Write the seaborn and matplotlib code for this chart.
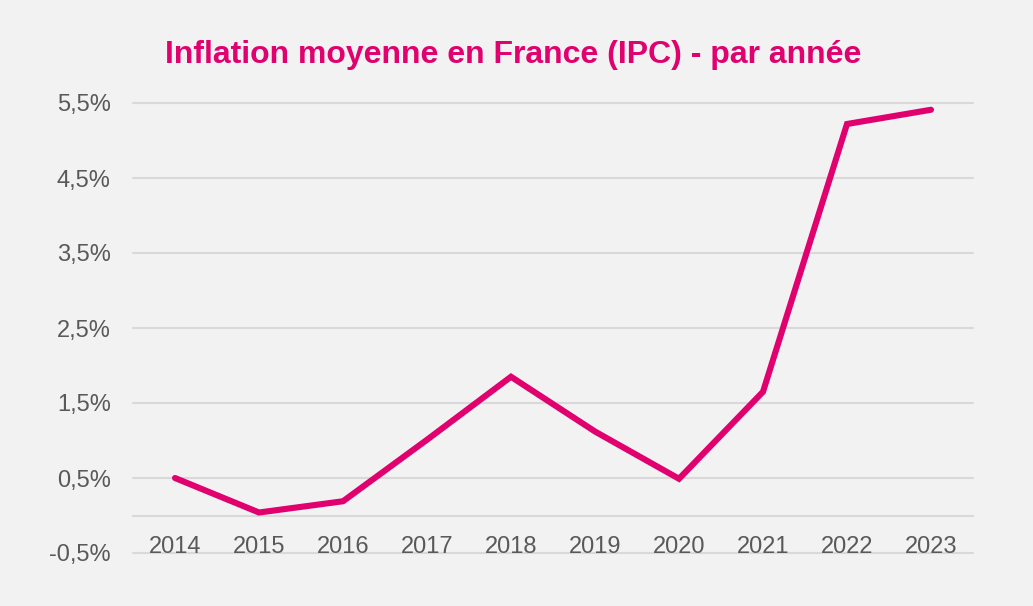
import matplotlib
matplotlib.use("Agg")
import matplotlib.pyplot as plt
import seaborn as sns
import pandas as pd

years = ["2014", "2015", "2016", "2017", "2018", "2019", "2020", "2021", "2022", "2023"]
inflation = [0.5, 0.04, 0.19, 1.01, 1.85, 1.12, 0.49, 1.65, 5.22, 5.41]
ytick_values = [-0.5, 0.5, 1.5, 2.5, 3.5, 4.5, 5.5]
ytick_labels = ["-0,5%", "0,5%", "1,5%", "2,5%", "3,5%", "4,5%", "5,5%"]
title = "Inflation moyenne en France (IPC) - par année"

sns.set_style("white")
plt.rcParams['font.family'] = ['Liberation Sans', 'DejaVu Sans']

bg = "#F2F2F2"
pink = "#E0006E"
grid_c = "#D9D9D9"
txt_c = "#595959"

fig = plt.figure(figsize=(10.33, 6.06), dpi=100, facecolor=bg)
ax = fig.add_axes([133/1033, 1-553/606, (973-133)/1033, (553-103)/606])
ax.set_facecolor(bg)

df = pd.DataFrame({"year": years, "value": inflation})
sns.lineplot(data=df, x="year", y="value", ax=ax, color=pink, linewidth=4.4,
             solid_joinstyle="miter", solid_capstyle="round")

ax.set_xlim(-0.5, len(years) - 0.5)
ax.set_ylim(-0.5, 5.5)
ax.set_yticks(ytick_values)
ax.set_yticklabels(ytick_labels)
for v in ytick_values:
    ax.axhline(v, color=grid_c, linewidth=1.5, zorder=0, clip_on=False)

for s in ["top", "right", "left"]:
    ax.spines[s].set_visible(False)
ax.spines["bottom"].set_position(("data", 0))
ax.spines["bottom"].set_color(grid_c)
ax.spines["bottom"].set_linewidth(1.5)
ax.spines["bottom"].set_zorder(0)

ax.tick_params(axis="y", length=0, pad=16, labelsize=17, labelcolor=txt_c)
ax.tick_params(axis="x", length=0, pad=15, labelsize=17, labelcolor=txt_c)
ax.set_xlabel("")
ax.set_ylabel("")

fig.text(513.5/1033, 1-55/606, title, ha="center", va="center",
         fontsize=23, fontweight="bold", color=pink)

fig.savefig("out.png", dpi=100, facecolor=bg)
